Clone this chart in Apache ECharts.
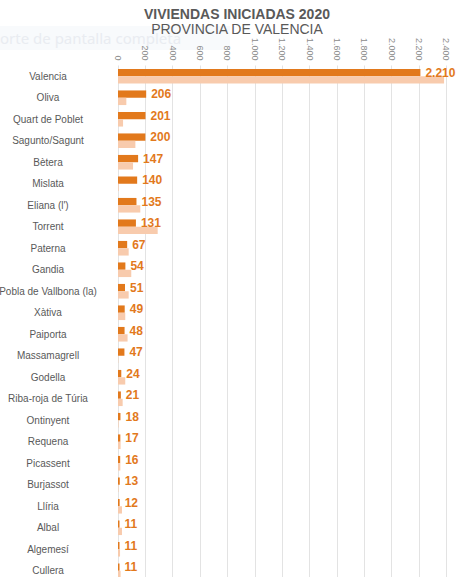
<!DOCTYPE html>
<html>
<head>
<meta charset="utf-8">
<script src="https://cdn.jsdelivr.net/npm/echarts@6/dist/echarts.min.js"></script>
<style>
  html, body { margin: 0; padding: 0; background: #fff; }
  #chart { width: 465px; height: 577px; }
</style>
</head>
<body>
<div id="chart"></div>
<script>
var municipios = [
  'Valencia', 'Oliva', 'Quart de Poblet', 'Sagunto/Sagunt', 'Bètera', 'Mislata',
  'Eliana (l\')', 'Torrent', 'Paterna', 'Gandia', 'Pobla de Vallbona (la)', 'Xàtiva',
  'Paiporta', 'Massamagrell', 'Godella', 'Riba-roja de Túria', 'Ontinyent', 'Requena',
  'Picassent', 'Burjassot', 'Llíria', 'Albal', 'Algemesí', 'Cullera'
];
// 2020 (labelled)
var viviendas2020 = [2210, 206, 201, 200, 147, 140, 135, 131, 67, 54, 51, 49, 48, 47, 24, 21, 18, 17, 16, 13, 12, 11, 11, 11];
// previous year (pale bars)
var viviendasPrev = [2383, 61, 37, 127, 110, 5, 163, 290, 78, 97, 78, 53, 70, 2, 53, 34, 4, 19, 17, 3, 29, 29, 15, 19];
var xTicks = { min: 0, max: 2400, step: 200 };

var dark = '#E2791C';
var light = '#F8CBAD';
var grey = '#595959';

function miles(v) {
  return String(v).replace(/\B(?=(\d{3})+(?!\d))/g, '.');
}

var chart = echarts.init(document.getElementById('chart'), null, { renderer: 'svg' });

chart.setOption({
  animation: false,
  backgroundColor: '#fff',
  title: [
    {
      text: 'VIVIENDAS INICIADAS 2020',
      left: 232, top: 2, textAlign: 'center',
      textStyle: { fontFamily: 'Liberation Sans', fontSize: 14, fontWeight: 'bold', color: grey }
    },
    {
      text: 'PROVINCIA DE VALENCIA',
      left: 232, top: 17, textAlign: 'center',
      textStyle: { fontFamily: 'Liberation Sans', fontSize: 14, fontWeight: 'normal', color: grey }
    }
  ],
  // faint screenshot-tool overlay seen in the picture
  graphic: [
    {
      type: 'rect', z: -1, silent: true,
      shape: { x: 0, y: 26, width: 230, height: 24 },
      style: { fill: '#f8fafc' }
    },
    {
      type: 'text', z: -1, silent: true, left: 0, top: 30,
      style: { text: 'orte de pantalla completa', fontFamily: 'Noto Sans', fontSize: 15, fill: '#e9ecf1' }
    }
  ],
  grid: { left: 118, top: 65.5, width: 328.4, height: 516, outerBoundsMode: 'none' },
  xAxis: {
    type: 'value',
    position: 'top',
    min: xTicks.min,
    max: xTicks.max,
    interval: xTicks.step,
    axisLine: { show: false },
    axisTick: { show: false },
    axisLabel: {
      rotate: 90,
      margin: 5,
      fontFamily: 'Liberation Sans',
      fontSize: 9,
      color: '#8c8c8c',
      formatter: function(v) { return miles(v); }
    },
    splitLine: { lineStyle: { color: '#e3e3e3', width: 1 } }
  },
  yAxis: {
    type: 'category',
    data: municipios,
    inverse: true,
    axisLine: { show: false },
    axisTick: { show: false },
    axisLabel: {
      align: 'center',
      margin: 70,
      fontFamily: 'Liberation Sans',
      fontSize: 10,
      color: grey
    }
  },
  series: [
    {
      name: '2020',
      type: 'bar',
      data: viviendas2020,
      barGap: '0%',
      barCategoryGap: '32%',
      itemStyle: { color: dark },
      label: {
        show: true,
        position: 'right',
        distance: 5,
        fontFamily: 'Liberation Sans',
        fontSize: 12,
        fontWeight: 'bold',
        color: dark,
        formatter: function(p) { return miles(p.value); }
      }
    },
    {
      name: 'anterior',
      type: 'bar',
      data: viviendasPrev,
      itemStyle: { color: light }
    }
  ]
});
</script>
</body>
</html>
